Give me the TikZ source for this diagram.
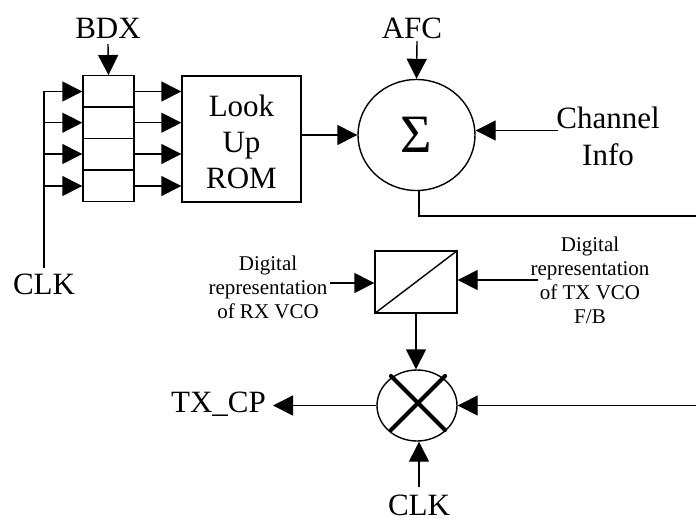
\documentclass[tikz,border=0pt]{standalone}
\usepackage{fontspec}
\setmainfont{Liberation Serif}
\usetikzlibrary{arrows.meta,shapes.geometric}
\tikzset{
  block/.style={draw=black, line width=1.4pt, inner sep=0pt, align=center},
  cell/.style={block, minimum width=51pt, minimum height=31.5pt},
  biglabel/.style={inner sep=0pt, align=center, font=\fontsize{31}{36}\selectfont},
  smalllabel/.style={inner sep=0pt, align=center, font=\fontsize{21}{24}\selectfont},
  oval/.style={ellipse, draw=black, line width=1.4pt, inner sep=0pt},
  arrow/.style={-{Triangle[length=20pt,width=20pt]}, line width=1.4pt},
  plain/.style={line width=1.4pt},
  cross/.style={line width=4.2pt, line cap=round}
}
\begin{document}
\begin{tikzpicture}[x=1pt, y=-1pt]
\useasboundingbox (0,0) rectangle (696,523);
% shift register and rom
\node[biglabel] (bdx) at (108,28) {BDX};
\node[cell] (cell1) at (108.5,91.5) {};
\node[cell] (cell2) at (108.5,122.7) {};
\node[cell] (cell3) at (108.5,154) {};
\node[cell] (cell4) at (108.5,186) {};
\node[block, minimum width=119pt, minimum height=126pt] (rom) at (241.5,139) {};
\node[biglabel] (romtext) at (241.5,142) {Look\\Up\\ROM};
\node[biglabel] (clka) at (44,284) {CLK};
\coordinate (bus) at (44,268);
\coordinate (bdxend) at (108,44);
\foreach \i in {1,2,3,4} {
  \draw[arrow] (bus) |- (cell\i.west);
  \draw[arrow] (cell\i.east) -- (cell\i.east -| rom.west);
}
\draw[arrow] (bdxend) -- (cell1.north);
% summing junction
\node[oval, minimum width=117pt, minimum height=111pt, font=\fontsize{54}{54}\selectfont] (sum) at (416.5,135) {\raisebox{-5pt}{Σ}};
\node[biglabel] (afc) at (412,28) {AFC};
\node[biglabel, font=\fontsize{31}{37}\selectfont] (chan) at (608,136) {Channel\\Info};
\coordinate (chanend) at (558,130.5);
\coordinate (afcend) at (417,41);
\coordinate (turn) at (419,216);
\coordinate (feed) at (696,216);
\draw[arrow] (rom.east |- sum.west) -- (sum.west);
\draw[arrow] (afcend) -- (sum.north);
\draw[arrow] (chanend) -- (chanend -| sum.east);
\draw[plain] (turn |- sum.south) -- (turn) -- (feed);
% converter
\node[block, minimum width=82pt, minimum height=62pt] (conv) at (416,282) {};
\draw[line width=1.4pt] (conv.south west) -- (conv.north east);
\node[smalllabel] (rxlab) at (268,287) {Digital\\representation\\of RX VCO};
\node[smalllabel] (txlab) at (590,280) {Digital\\representation\\of TX VCO\\F/B};
\coordinate (txend) at (538,280);
\coordinate (rxend) at (330,283);
\draw[arrow] (rxend) -- (conv.west |- rxend);
\draw[arrow] (txend) -- (conv.east |- txend);
% mixer
\node[oval, minimum width=80pt, minimum height=71pt] (mix) at (417,405.5) {};
\draw[cross] (391,376) -- (445,430);
\draw[cross] (445,376) -- (391,430);
\node[biglabel] (txcp) at (218.5,404) {TX\_CP};
\node[biglabel] (clkb) at (419,505) {CLK};
\coordinate (fedin) at (696,405.5);
\coordinate (clkend) at (419,487);
\coordinate (txtip) at (273,405.5);
\draw[arrow] (conv.south) -- (conv.south |- mix.north);
\draw[arrow] (fedin) -- (mix.east);
\draw[arrow] (clkend) -- (clkend |- mix.south);
\draw[arrow] (mix.west) -- (txtip);
\end{tikzpicture}
\end{document}
